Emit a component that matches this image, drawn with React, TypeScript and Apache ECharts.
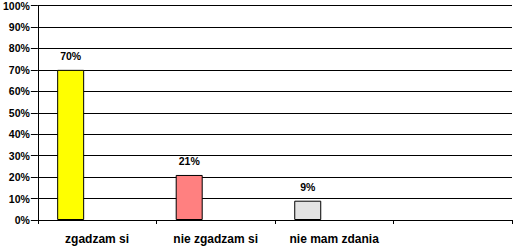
import React, { useEffect, useRef } from "react";
import * as echarts from "echarts";

const categories = ["zgadzam si", "nie zgadzam si", "nie mam zdania", ""];
const values = [70, 21, 9, null];
const barColors = ["#FFFF00", "#FF8080", "#E3E3E3", "#FFFFFF"];
const yTicks = [0, 10, 20, 30, 40, 50, 60, 70, 80, 90, 100];

export default function App() {
  const ref = useRef<HTMLDivElement>(null);
  useEffect(() => {
    if (!ref.current) return;
    const chart = echarts.init(ref.current, null, { renderer: "svg" });
    const font = "Liberation Sans, Arial, sans-serif";
    chart.setOption({
      animation: false,
      grid: { left: 37, right: 1, top: 5, bottom: 27, containLabel: false },
      xAxis: {
        type: "category",
        data: categories,
        axisLine: { lineStyle: { color: "#000", width: 1 } },
        axisTick: { show: true, length: 4, alignWithLabel: false, lineStyle: { color: "#000" } },
        axisLabel: {
          color: "#000",
          fontFamily: font,
          fontWeight: "bold",
          fontSize: 12,
          margin: 13,
          interval: 0,
        },
      },
      yAxis: {
        type: "value",
        min: yTicks[0],
        max: yTicks[yTicks.length - 1],
        interval: 10,
        axisLine: { show: true, lineStyle: { color: "#000", width: 1 } },
        axisTick: { show: true, inside: false, length: 7, lineStyle: { color: "#000" } },
        splitLine: { show: true, lineStyle: { color: "#000", width: 1 } },
        axisLabel: {
          color: "#000",
          fontFamily: font,
          fontWeight: "bold",
          fontSize: 10.5,
          margin: 8,
          formatter: "{value}%",
        },
      },
      series: [
        {
          type: "bar",
          data: values.map((v, i) => ({
            value: v,
            itemStyle: { color: barColors[i], borderColor: "#000", borderWidth: 1 },
          })),
          barWidth: 27,
          barGap: "96%",
          label: {
            show: true,
            position: "top",
            distance: 8,
            color: "#000",
            fontFamily: font,
            fontWeight: "bold",
            fontSize: 10.5,
            formatter: (p: any) => (p.value == null ? "" : p.value + "%"),
          },
        },
        {
          type: "bar",
          data: values.map(() => null),
          barWidth: 27,
        },
      ],
    });
    return () => chart.dispose();
  }, []);
  return <div ref={ref} style={{ width: 513, height: 247, position: "absolute", left: 0, top: 0 }} />;
}
